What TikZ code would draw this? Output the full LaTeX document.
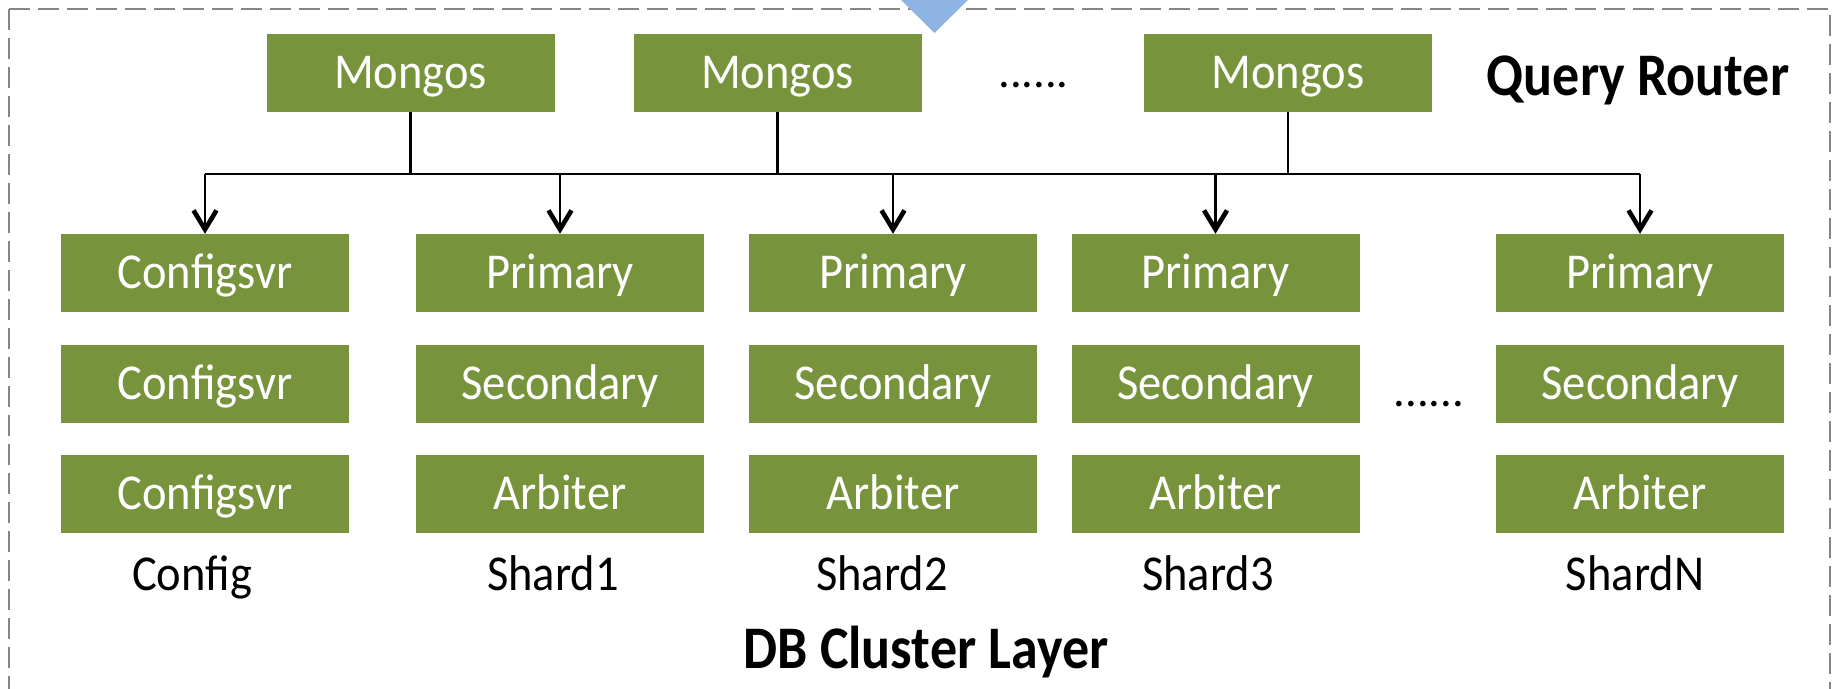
\documentclass[tikz,border=0pt]{standalone}
\usepackage{graphicx}
\usepackage{fontspec}
\setmainfont{Carlito}
\usetikzlibrary{arrows.meta}
\definecolor{boxgreen}{RGB}{119,147,60}
\definecolor{tipblue}{RGB}{142,180,227}
\definecolor{framegray}{RGB}{134,134,134}
% slightly taller lettering
\newcommand{\tallR}[1]{\scalebox{1}[1.08]{#1}}
\newcommand{\tallB}[1]{\scalebox{1}[1.12]{#1}}
\begin{document}
\begin{tikzpicture}[x=1pt,y=-1pt,
  box/.style={fill=boxgreen, minimum width=288pt, minimum height=78pt, inner sep=0pt,
    text=white, font=\fontsize{46.5}{52}\selectfont, text height=31.3pt, text depth=0pt},
  caption/.style={font=\fontsize{46.5}{52}\selectfont, anchor=base, inner sep=0pt},
  layertitle/.style={font=\bfseries\fontsize{54}{60}\selectfont, anchor=base, inner sep=0pt},
  wire/.style={line width=2.7pt},
  feed/.style={wire, -{Straight Barb[length=19pt,width=23pt,line width=4.6pt]}}]
\useasboundingbox (0,0) rectangle (1841,688);

% dashed frame of the cluster
\draw[framegray, line width=2.5pt, dash pattern=on 21pt off 8pt] (9,9) -- (9,720);
\draw[framegray, line width=2.5pt, dash pattern=on 21pt off 8pt] (9,9) -- (1830,9) -- (1830,720);

% incoming request marker
\fill[tipblue] (900,-1) -- (969,-1) -- (934.5,33) -- cycle;

% query routers
\node[box] (m1) at (410.5,73) {\tallR{Mongos}};
\node[box] (m2) at (777.5,73) {\tallR{Mongos}};
\node[box] (m3) at (1288,73) {\tallR{Mongos}};
\node[caption] (mdots) at (1033.5,87) {......};
\node[layertitle] (qr) at (1638,95) {\tallB{Query Router}};

% config servers
\node[box] (c1) at (205,273) {\tallR{Configsvr}};
\node[box] (c2) at (205,384) {\tallR{Configsvr}};
\node[box] (c3) at (205,494) {\tallR{Configsvr}};
\node[caption] (cl) at (192,590) {\tallR{Config}};

% shard replica sets
\node[box] (p1) at (560,273) {\tallR{Primary}};
\node[box] (s1) at (560,384) {\tallR{Secondary}};
\node[box] (a1) at (560,494) {\tallR{Arbiter}};
\node[caption] (l1) at (553,590) {\tallR{Shard1}};

\node[box] (p2) at (893,273) {\tallR{Primary}};
\node[box] (s2) at (893,384) {\tallR{Secondary}};
\node[box] (a2) at (893,494) {\tallR{Arbiter}};
\node[caption] (l2) at (882,590) {\tallR{Shard2}};

\node[box] (p3) at (1215.5,273) {\tallR{Primary}};
\node[box] (s3) at (1215.5,384) {\tallR{Secondary}};
\node[box] (a3) at (1215.5,494) {\tallR{Arbiter}};
\node[caption] (l3) at (1208,590) {\tallR{Shard3}};

\node[caption] (sdots) at (1429,406) {......};

\node[box] (pN) at (1640,273) {\tallR{Primary}};
\node[box] (sN) at (1640,384) {\tallR{Secondary}};
\node[box] (aN) at (1640,494) {\tallR{Arbiter}};
\node[caption] (lN) at (1635,590) {\tallR{ShardN}};

\node[layertitle] (db) at (926,668) {\tallB{DB Cluster Layer}};

% routing bus
\coordinate (bus) at (0,174);
\draw[wire] (m1.south) -- (m1.south |- bus);
\draw[wire] (m2.south) -- (m2.south |- bus);
\draw[wire] (m3.south) -- (m3.south |- bus);
\draw[wire] (c1.north |- bus) -- (pN.north |- bus);
\foreach \t in {c1,p1,p2,p3,pN}
  \draw[feed] (\t.north |- bus) -- (\t.north);
\end{tikzpicture}
\end{document}
